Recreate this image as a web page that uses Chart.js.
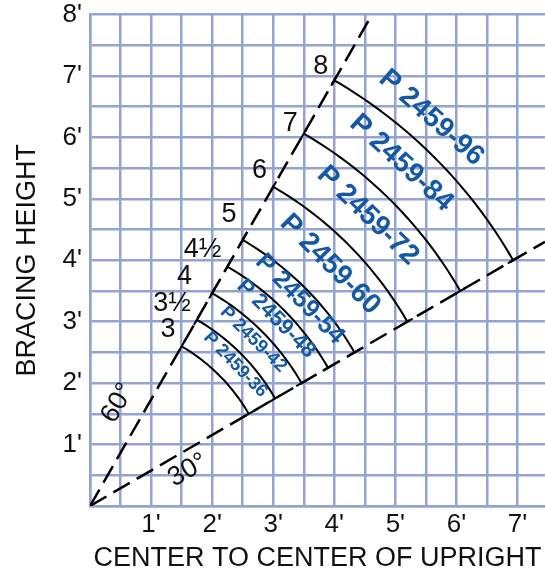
<!DOCTYPE html>
<html>
<head>
<meta charset="utf-8">
<script src="https://cdn.jsdelivr.net/npm/chart.js"></script>
<style>
  html, body { margin: 0; padding: 0; background: #fff; }
  #wrap { width: 545px; height: 572px; position: relative; }
</style>
</head>
<body>
<div id="wrap"><canvas id="bracingChart"></canvas></div>
<script>
// bracing lengths in feet, the matching part numbers and the corner labels
const bracingFeet = [3, 3.5, 4, 4.5, 5, 6, 7, 8];
const bracingLabels = ['3', '3½', '4', '4½', '5', '6', '7', '8'];
const partNumbers = ['P 2459-36', 'P 2459-42', 'P 2459-48', 'P 2459-54',
                     'P 2459-60', 'P 2459-72', 'P 2459-84', 'P 2459-96'];

// allowed brace angles, degrees from horizontal
const braceAngles = [30, 60];
const angleLabels = ['30°', '60°'];

// labelled ticks (feet)
const xTicks = [1, 2, 3, 4, 5, 6, 7];
const yTicks = [1, 2, 3, 4, 5, 6, 7, 8];

const X_MAX = 7.45;
const Y_MAX = 8;
const GRID = '#93a3d3';
const BLUE = '#1559a5';
const FONT = "'Liberation Sans', Arial, Helvetica, sans-serif";

// where the part numbers sit along their band (polar angle) and their size
const partAngle = [44, 45.4, 45, 44.4, 45, 46.1, 47.6, 48.5];
const partSize = [18, 18.5, 22, 25, 28, 28, 28, 28];
// small pixel nudges for the length numbers so they clear the guide
const lenNudgeX = [0, 0, -14, 0, 0, 0, 0, 0];
const lenNudgeY = [0, 0, 0, 0, -9, 0, 7, 3];

const rad = d => d * Math.PI / 180;
const lo = braceAngles[0], hi = braceAngles[1];

// arc of one bracing length between the two limit angles
function arcPoints(r) {
    const pts = [];
    for (let a = hi; a >= lo; a -= 1) {
        pts.push({ x: r * Math.cos(rad(a)), y: r * Math.sin(rad(a)) });
    }
    return pts;
}

// short cap across the end of an arc
function capPoints(r, a) {
    const c = Math.cos(rad(a)), s = Math.sin(rad(a));
    return [{ x: (r - 0.1) * c, y: (r - 0.1) * s }, { x: (r + 0.1) * c, y: (r + 0.1) * s }];
}

// dashed guide from the origin out to the edge of the grid
function guidePoints(a) {
    const c = Math.cos(rad(a)), s = Math.sin(rad(a));
    const t = Math.min(X_MAX / c, Y_MAX / s);
    return [{ x: 0, y: 0 }, { x: t * c, y: t * s }];
}

const datasets = [];
braceAngles.forEach(a => {
    datasets.push({
        data: guidePoints(a),
        borderColor: '#000',
        borderWidth: 2.5,
        borderDash: [19, 8],
        showLine: true,
        pointRadius: 0
    });
});
bracingFeet.forEach(r => {
    datasets.push({
        data: arcPoints(r),
        borderColor: '#000',
        borderWidth: 2,
        showLine: true,
        pointRadius: 0
    });
    braceAngles.forEach(a => {
        datasets.push({
            data: capPoints(r, a),
            borderColor: '#000',
            borderWidth: 2,
            showLine: true,
            pointRadius: 0
        });
    });
});

// text drawn over the lines: part numbers, lengths, angles
const labelPlugin = {
    id: 'bracingText',
    afterDatasetsDraw(chart) {
        const { ctx, scales: { x, y } } = chart;
        const px = v => x.getPixelForValue(v);
        const py = v => y.getPixelForValue(v);
        ctx.save();
        ctx.textAlign = 'center';
        ctx.textBaseline = 'middle';

        // part numbers, between their arc and the next one
        bracingFeet.forEach((r, i) => {
            const next = i < bracingFeet.length - 1 ? bracingFeet[i + 1] : r + 0.75;
            const rc = (r + next) / 2 + 0.06;
            const a = rad(partAngle[i]);
            ctx.save();
            ctx.translate(px(rc * Math.cos(a)), py(rc * Math.sin(a)));
            ctx.rotate(Math.PI / 2 - a);
            ctx.font = `bold ${partSize[i]}px ${FONT}`;
            ctx.fillStyle = BLUE;
            ctx.fillText(partNumbers[i], 0, 0);
            ctx.restore();
        });

        // lengths, left of the arc corners on the steep guide
        ctx.fillStyle = '#111';
        ctx.font = `27px ${FONT}`;
        ctx.textAlign = 'right';
        bracingFeet.forEach((r, i) => {
            const cx = r * Math.cos(rad(hi)) - 0.1;
            const cy = r * Math.sin(rad(hi)) + 0.27;
            ctx.fillText(bracingLabels[i], px(cx) + lenNudgeX[i], py(cy) + lenNudgeY[i]);
        });

        // angle marks along each guide
        ctx.textAlign = 'center';
        braceAngles.forEach((a, i) => {
            const c = Math.cos(rad(a)), s = Math.sin(rad(a));
            const d = 1.68;
            const side = a === hi ? 0.44 : -0.3;
            const lx = d * c - side * s;
            const ly = d * s + side * c;
            ctx.save();
            ctx.translate(px(lx), py(ly));
            ctx.rotate(-rad(a));
            ctx.fillText(angleLabels[i], 0, 0);
            ctx.restore();
        });
        ctx.restore();
    }
};

const titleFont = { family: FONT, size: 27, lineHeight: 1 };

new Chart(document.getElementById('bracingChart'), {
    type: 'scatter',
    data: { datasets },
    options: {
        responsive: true,
        maintainAspectRatio: false,
        animation: false,
        events: [],
        layout: { padding: 0 },
        plugins: { legend: { display: false }, tooltip: { enabled: false } },
        scales: {
            x: {
                type: 'linear',
                min: 0,
                max: X_MAX,
                grid: { color: GRID, lineWidth: 2.5, drawTicks: false },
                border: { color: GRID, width: 2.5 },
                ticks: {
                    stepSize: 0.5,
                    includeBounds: false,
                    autoSkip: false,
                    maxRotation: 0,
                    padding: 6,
                    color: '#111',
                    font: { family: FONT, size: 26, lineHeight: 1 },
                    callback: v => xTicks.includes(v) ? v + "'" : ''
                },
                title: {
                    display: true,
                    text: 'CENTER TO CENTER OF UPRIGHT',
                    color: '#111',
                    font: titleFont,
                    padding: 0
                },
                afterFit: s => { s.height = 66; }
            },
            y: {
                type: 'linear',
                min: 0,
                max: Y_MAX,
                grid: { color: GRID, lineWidth: 2.5, drawTicks: false },
                border: { color: GRID, width: 2.5 },
                ticks: {
                    stepSize: 0.5,
                    autoSkip: false,
                    padding: 8,
                    color: '#111',
                    font: { family: FONT, size: 26, lineHeight: 0.5 },
                    callback: v => yTicks.includes(v) ? v + "'" : ''
                },
                title: {
                    display: true,
                    text: 'BRACING HEIGHT',
                    color: '#111',
                    font: titleFont,
                    padding: { top: 14, bottom: 0 }
                },
                afterFit: s => { s.width = 90; }
            }
        }
    },
    plugins: [labelPlugin]
});
</script>
</body>
</html>
